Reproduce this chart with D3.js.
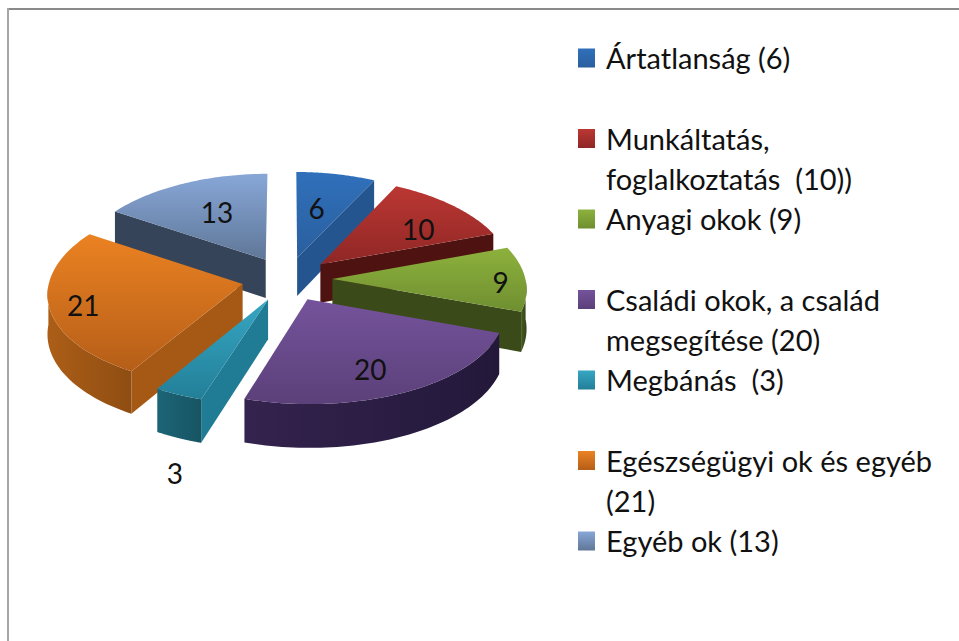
<!DOCTYPE html>
<html lang="hu">
<head>
  <meta charset="UTF-8">
  <title>Exploded 3D pie</title>
  <script src="https://d3js.org/d3.v7.min.js"></script>
  <style>
    html, body { margin: 0; background: #fff; }
    svg { display: block; }
    text { font-family: Lato, "Open Sans", sans-serif; fill: #111; }
  </style>
</head>
<body>
  <svg id="chart" width="959" height="641"></svg>
  <script>
    const values = [6, 10, 9, 20, 3, 21, 13];
    const legendLines = [
      ["Ártatlanság (6)"],
      ["Munkáltatás,", "foglalkoztatás  (10))"],
      ["Anyagi okok (9)"],
      ["Családi okok, a család", "megsegítése (20)"],
      ["Megbánás  (3)"],
      ["Egészségügyi ok és egyéb", "(21)"],
      ["Egyéb ok (13)"]
    ];
    const labelLines = values.map(String);

    // palette: light/dark of the top face, flat radial wall, light/dark of the rim
    const topLight = ["#3070bb", "#bb3733", "#8db13d", "#75539c", "#36a6c3", "#eb8222", "#88a7d8"];
    const topDark = ["#2a5f9e", "#8f2725", "#6f8f30", "#5b4079", "#237f98", "#b55e18", "#5f7797"];
    const wallColor = ["#24558e", "#4e1311", "#3a4a18", "#2e1f45", "#207c94", "#a55914", "#36445a"];
    const rimLight = ["#24558e", "#4e1311", "#465a1e", "#34234e", "#1c6577", "#ac5e17", "#36445a"];
    const rimDark = ["#1d4674", "#3f0f0e", "#33431a", "#23183a", "#175463", "#8f4d12", "#2c384a"];

    // where each number sits: fraction across the slice's angle, fraction of the radius
    const labelAngleFrac = [0.42, 0.62, 0.55, 0.535, -0.28, 0.48, 0.53];
    const labelRadiusFrac = [0.58, 0.67, 0.87, 0.74, 1.63, 0.83, 0.61];

    const svg = d3.select("#chart");
    const defs = svg.append("defs");

    // Frame, only top and left are visible in the picture
    svg.append("line").attr("x1", 7).attr("x2", 959).attr("y1", 9).attr("y2", 9)
      .attr("stroke", "#8a8a8a").attr("stroke-width", 2);
    svg.append("line").attr("x1", 8).attr("x2", 8).attr("y1", 8).attr("y2", 641)
      .attr("stroke", "#a6a6a6").attr("stroke-width", 2);

    // Projection of the tilted pie plane, u to the right, v to the back
    const cx = 287, cy = 279, R = 193, tilt = 0.49, persp = 0.09, perspY = 0.07;
    const explode = 0.235, depth = 39;
    const scaleAt = v => 1 / (1 + persp * v);
    const project = (u, v, down = 0) => {
      return [
        cx + R * u * scaleAt(v),
        cy - R * tilt * v / (1 + perspY * v) + down * scaleAt(v)
      ];
    };

    const arcs = d3.pie().sort(null).value(d => d)(values);
    const path = d3.line().curve(d3.curveLinearClosed);

    const pieGroup = svg.append("g").style("filter", "blur(0.6px)");

    const slices = arcs.map((a, i) => {
      const mid = (a.startAngle + a.endAngle) / 2;
      return {
        i, a0: a.startAngle, a1: a.endAngle,
        ou: explode * Math.sin(mid), ov: explode * Math.cos(mid)
      };
    });

    function rimPoint(s, t, r = 1) {
      return [s.ou + r * Math.sin(t), s.ov + r * Math.cos(t)];
    }

    function gradient(id, x2, y2, from, to) {
      const g = defs.append("linearGradient").attr("id", id)
        .attr("x1", 0).attr("y1", 0).attr("x2", x2).attr("y2", y2);
      g.append("stop").attr("offset", "0%").attr("stop-color", from);
      g.append("stop").attr("offset", "100%").attr("stop-color", to);
      return `url(#${id})`;
    }

    function wall(p, q) {
      return [project(...p), project(...q), project(...q, depth), project(...p, depth)];
    }

    // painter's order: slices further back first
    slices.slice().sort((a, b) => b.ov - a.ov).forEach(s => {
      const g = pieGroup.append("g");
      const apex = [s.ou, s.ov];
      const angles = d3.range(0, 61).map(k => s.a0 + (s.a1 - s.a0) * k / 60);
      const rim = angles.map(t => rimPoint(s, t));

      if (Math.sin(s.a0) < -0.01) {
        g.append("path").attr("d", path(wall(apex, rim[0]))).attr("fill", wallColor[s.i]);
      }
      if (Math.sin(s.a1) > 0.01) {
        g.append("path").attr("d", path(wall(apex, rim[60]))).attr("fill", wallColor[s.i]);
      }

      const front = rim.filter((p, k) => Math.cos(angles[k]) < 0);
      if (front.length > 1) {
        const band = front.map(p => project(...p))
          .concat(front.slice().reverse().map(p => project(...p, depth)));
        g.append("path").attr("d", path(band))
          .attr("fill", gradient(`rim${s.i}`, 1, 0, rimLight[s.i], rimDark[s.i]));
      }

      const top = [project(...apex)].concat(rim.map(p => project(...p)));
      g.append("path").attr("d", path(top))
        .attr("fill", gradient(`top${s.i}`, 0, 1, topLight[s.i], topDark[s.i]));
    });

    // Numbers on the slices
    svg.append("g").selectAll("text")
      .data(slices)
      .join("text")
      .attr("text-anchor", "middle")
      .attr("dominant-baseline", "central")
      .attr("font-size", 28)
      .attr("x", d => {
        const t = d.a0 + (d.a1 - d.a0) * labelAngleFrac[d.i];
        return project(...rimPoint(d, t, labelRadiusFrac[d.i]))[0];
      })
      .attr("y", d => {
        const t = d.a0 + (d.a1 - d.a0) * labelAngleFrac[d.i];
        return project(...rimPoint(d, t, labelRadiusFrac[d.i]))[1];
      })
      .text(d => labelLines[d.i]);

    // Legend
    const legendY = d3.scalePoint().domain(d3.range(values.length)).range([58, 541]);
    const legend = svg.append("g").selectAll("g")
      .data(legendLines)
      .join("g")
      .attr("transform", (d, i) => `translate(578,${legendY(i)})`);

    legend.append("rect")
      .attr("y", -9.5).attr("width", 17).attr("height", 19)
      .attr("fill", (d, i) => gradient(`key${i}`, 0, 1, topLight[i], topDark[i]));

    legend.append("text")
      .attr("x", 28)
      .attr("font-size", 29)
      .selectAll("tspan")
      .data(d => d)
      .join("tspan")
      .attr("x", 28)
      .attr("y", (d, k) => 11 + k * 40)
      .style("white-space", "pre")
      .text(d => d);
  </script>
</body>
</html>
